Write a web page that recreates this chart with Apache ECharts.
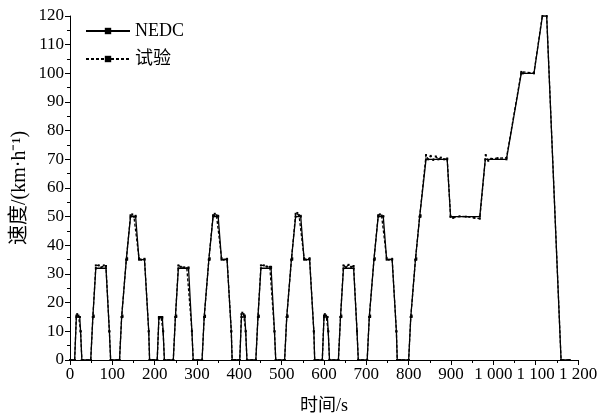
<!DOCTYPE html>
<html>
<head>
<meta charset="utf-8">
<script src="https://cdn.jsdelivr.net/npm/echarts@6/dist/echarts.min.js"></script>
<style>
  html, body { margin: 0; padding: 0; background: #fff; }
  #main { width: 610px; height: 416px; }
</style>
</head>
<body>
<div id="main"></div>
<script>
  // NEDC 标准工况 (时间 s, 速度 km/h)
  var nedcTime = [
    0, 11, 15, 23, 25, 28, 49, 54, 56, 61, 85, 93, 96, 117, 122, 124, 133, 135, 143, 155, 163, 176, 186, 188,
    195, 206, 210, 218, 220, 223, 244, 249, 251, 256, 280, 288, 291, 312, 317, 319, 328, 330, 338, 350, 358, 371, 381, 383,
    390, 401, 405, 413, 415, 418, 439, 444, 446, 451, 475, 483, 486, 507, 512, 514, 523, 525, 533, 545, 553, 566, 576, 578,
    585, 596, 600, 608, 610, 613, 634, 639, 641, 646, 670, 678, 681, 702, 707, 709, 718, 720, 728, 740, 748, 761, 771, 773,
    780, 800, 805, 807, 816, 818, 826, 828, 841, 891, 899, 968, 981, 1031, 1066, 1096, 1116, 1126, 1160, 1180
  ];
  var nedcSpeed = [
    0, 0, 15, 15, 10, 0, 0, 15, 15, 32, 32, 10, 0, 0, 15, 15, 35, 35, 50, 50, 35, 35, 10, 0,
    0, 0, 15, 15, 10, 0, 0, 15, 15, 32, 32, 10, 0, 0, 15, 15, 35, 35, 50, 50, 35, 35, 10, 0,
    0, 0, 15, 15, 10, 0, 0, 15, 15, 32, 32, 10, 0, 0, 15, 15, 35, 35, 50, 50, 35, 35, 10, 0,
    0, 0, 15, 15, 10, 0, 0, 15, 15, 32, 32, 10, 0, 0, 15, 15, 35, 35, 50, 50, 35, 35, 10, 0,
    0, 0, 15, 15, 35, 35, 50, 50, 70, 70, 50, 50, 70, 70, 100, 100, 120, 120, 0, 0
  ];

  // 试验 实测曲线
  var testTime = [
    0, 11, 15, 17, 20, 23, 25, 28, 49, 54, 56, 61, 68, 74, 80, 85, 93, 96, 117, 122, 124, 133, 135, 143, 147, 151, 155, 163, 168, 176, 186, 188,
    195, 206, 210, 212, 215, 218, 220, 223, 244, 249, 251, 256, 262, 270, 276, 280, 288, 291, 312, 317, 319, 328, 330, 338, 342, 346, 350, 358, 363, 371, 381, 383,
    390, 401, 405, 407, 410, 413, 415, 418, 439, 444, 446, 451, 458, 465, 472, 475, 483, 486, 507, 512, 514, 523, 525, 533, 537, 541, 545, 553, 558, 566, 576, 578,
    585, 596, 600, 602, 605, 608, 610, 613, 634, 639, 641, 646, 652, 658, 664, 670, 678, 681, 702, 707, 709, 718, 720, 728, 732, 736, 740, 748, 753, 761, 771, 773,
    780, 800, 805, 807, 816, 818, 826, 828, 841, 846, 852, 858, 864, 870, 876, 884, 891, 899, 905, 920, 935, 955, 968, 982, 988, 995, 1010, 1031, 1066, 1070, 1096, 1116, 1120, 1126, 1160, 1180
  ];
  var testSpeed = [
    0, 0, 15.5, 16, 15.5, 15, 10, 0, 0, 15, 15.5, 33, 33, 32.3, 33, 32.8, 10, 0, 0, 15, 15.5, 35, 35.5, 50.5, 50.8, 50, 50.3, 35.5, 35, 35.3, 10, 0,
    0, 0, 14.5, 15, 15, 14.5, 10, 0, 0, 15, 15.5, 33, 32.5, 32.3, 32, 32.3, 10, 0, 0, 15, 15.5, 35, 35.5, 50.5, 51, 50.5, 50.3, 35.5, 35, 35.3, 10, 0,
    0, 0, 16, 16.5, 16, 15.5, 10, 0, 0, 15, 15.5, 33, 33, 32.6, 32.5, 32.5, 10, 0, 0, 15, 15.5, 35, 35.5, 51, 51.3, 50.5, 50.3, 35.5, 35, 35.5, 10, 0,
    0, 0, 15.5, 16, 15.5, 15, 10, 0, 0, 15, 15.5, 33, 32.4, 33.2, 32.5, 32.8, 10, 0, 0, 15, 15.5, 35, 35.5, 50.5, 50.8, 50.4, 50.2, 35.5, 35, 35.3, 10, 0,
    0, 0, 15, 15.5, 35, 35.5, 50, 50.5, 71.5, 70, 71.2, 69.8, 71, 70, 70.6, 70, 70.3, 50, 49.6, 50.1, 50, 49.6, 49.3, 71.5, 69.5, 70.2, 70.4, 70.5, 100.5, 100, 100.2, 120.5, 121, 120.3, 0, 0
  ];

  var xTicks = [0, 100, 200, 300, 400, 500, 600, 700, 800, 900, 1000, 1100, 1200];

  function pairs(t, v) {
    var out = [];
    for (var i = 0; i < t.length; i++) out.push([t[i], v[i]]);
    return out;
  }

  var serif = 'Liberation Serif, Times New Roman, Noto Sans CJK SC, serif';
  var chart = echarts.init(document.getElementById('main'), null, { renderer: 'canvas' });

  var option = {
    animation: false,
    backgroundColor: '#fff',
    textStyle: { fontFamily: serif, color: '#000' },
    grid: { left: 70, right: 32, top: 16, bottom: 56, containLabel: false, outerBoundsMode: 'none' },
    legend: {
      orient: 'vertical',
      left: 80,
      top: 17,
      itemWidth: 44,
      itemHeight: 8,
      itemGap: 10,
      textStyle: { fontFamily: serif, fontSize: 18, color: '#000' },
      data: ['NEDC', '试验']
    },
    xAxis: {
      type: 'value',
      min: 0,
      max: 1200,
      interval: 100,
      name: '时间/s',
      nameLocation: 'middle',
      nameGap: 37,
      nameMoveOverlap: false,
      nameTextStyle: { fontFamily: serif, fontSize: 18, color: '#000' },
      axisLine: { lineStyle: { color: '#000', width: 1 } },
      axisTick: { length: 5, lineStyle: { color: '#000' } },
      minorTick: { show: true, splitNumber: 2, length: 3, lineStyle: { color: '#000' } },
      splitLine: { show: false },
      axisLabel: {
        fontFamily: serif, fontSize: 17, color: '#000', margin: 6,
        formatter: function (v) {
          if (xTicks.indexOf(v) < 0) return '';
          return v >= 1000 ? Math.floor(v / 1000) + ' ' + String(v % 1000).padStart(3, '0') : String(v);
        }
      }
    },
    yAxis: {
      type: 'value',
      min: 0,
      max: 120,
      interval: 10,
      name: '速度/(km·h⁻¹)',
      nameLocation: 'middle',
      nameGap: 40,
      nameMoveOverlap: false,
      nameRotate: 90,
      nameTextStyle: { fontFamily: serif, fontSize: 20, color: '#000' },
      axisLine: { show: true, lineStyle: { color: '#000', width: 1 } },
      axisTick: { show: true, length: 5, lineStyle: { color: '#000' } },
      minorTick: { show: true, splitNumber: 2, length: 3, lineStyle: { color: '#000' } },
      splitLine: { show: false },
      axisLabel: { fontFamily: serif, fontSize: 17, color: '#000', margin: 6 }
    },
    series: [
      {
        name: 'NEDC',
        type: 'line',
        data: pairs(nedcTime, nedcSpeed),
        symbol: 'rect',
        symbolSize: 2,
        showAllSymbol: true,
        itemStyle: { color: '#000' },
        lineStyle: { color: '#000', width: 1.3, type: 'solid' }
      },
      {
        name: '试验',
        type: 'line',
        data: pairs(testTime, testSpeed),
        symbol: 'rect',
        symbolSize: 2,
        showAllSymbol: true,
        itemStyle: { color: '#000' },
        lineStyle: { color: '#000', width: 1.3, type: [3, 2] }
      }
    ]
  };
  chart.setOption(option);
</script>
</body>
</html>
